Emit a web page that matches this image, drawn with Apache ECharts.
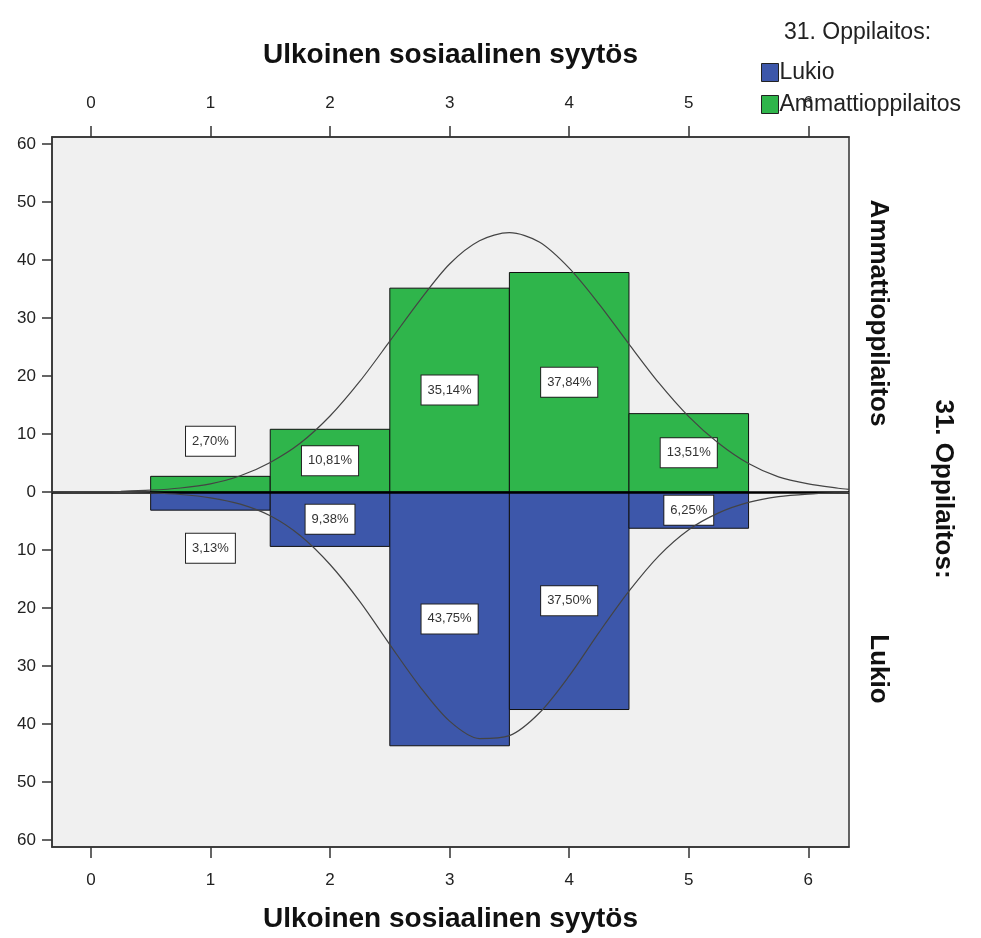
<!DOCTYPE html>
<html>
<head>
<meta charset="utf-8">
<script src="https://cdn.jsdelivr.net/npm/echarts@6/dist/echarts.min.js"></script>
<style>
html,body{margin:0;padding:0;background:#fff;}
#chart{width:981px;height:938px;}
</style>
</head>
<body>
<div id="chart"></div>
<script>
// ---- data ----
const xTicks = [0, 1, 2, 3, 4, 5, 6];
const yTicks = [-60, -50, -40, -30, -20, -10, 0, 10, 20, 30, 40, 50, 60];
const categories = [1, 2, 3, 4, 5];
const lukioPct = [3.13, 9.38, 43.75, 37.50, 6.25];
const ammattiPct = [2.70, 10.81, 35.14, 37.84, 13.51];
const lukioLabels = ['3,13%', '9,38%', '43,75%', '37,50%', '6,25%'];
const ammattiLabels = ['2,70%', '10,81%', '35,14%', '37,84%', '13,51%'];
// normal curves
const curveX = [-0.325, 0, 0.25, 0.5, 0.75, 1.0, 1.25, 1.5, 1.75, 2.0, 2.25, 2.5, 2.75, 3.0, 3.25, 3.5, 3.75, 4.0, 4.25, 4.5, 4.75, 5.0, 5.25, 5.5, 5.75, 6.0, 6.25, 6.34];
const ammattiCurveY = [0.0, 0.05, 0.13, 0.31, 0.69, 1.4, 2.8, 5.1, 8.4, 13.1, 19.1, 26.0, 33.0, 39.3, 43.3, 44.7, 43.1, 38.6, 32.4, 25.5, 18.8, 13.0, 8.4, 4.9, 2.6, 1.4, 0.65, 0.45];
const lukioCurveY = [0.0, 0.02, 0.06, 0.17, 0.43, 1.0, 2.1, 4.1, 7.5, 12.5, 18.9, 26.3, 33.5, 39.5, 42.5, 42.0, 38.1, 31.7, 24.2, 17.1, 11.0, 6.5, 3.6, 1.8, 0.8, 0.35, 0.13, 0.1];

const GREEN = '#2fb54b';
const BLUE = '#3d57aa';
const FONT = 'Liberation Sans';

const chart = echarts.init(document.getElementById('chart'), null, {renderer: 'canvas'});

function barSeries(name, values, labels, sign, color) {
  return {
    name: name,
    type: 'custom',
    xAxisIndex: 0, yAxisIndex: 0,
    data: categories.map((c, i) => [c, sign * values[i]]),
    z: 2,
    renderItem: function (params, api) {
      const x = api.value(0), v = api.value(1);
      const p1 = api.coord([x - 0.5, v]);
      const p2 = api.coord([x + 0.5, 0]);
      const top = Math.min(p1[1], p2[1]);
      const h = Math.abs(p2[1] - p1[1]);
      const boxH = 32;
      let ly;
      if (h > boxH) {
        ly = api.coord([x, v / 2])[1];
      } else {
        ly = sign > 0 ? p1[1] - 35 : p1[1] + 38;
      }
      const cx = (p1[0] + p2[0]) / 2;
      return {
        type: 'group',
        children: [
          {type: 'rect', shape: {x: p1[0], y: top, width: p2[0] - p1[0], height: h},
           style: {fill: color, stroke: '#111', lineWidth: 1}},
          {type: 'text', x: cx, y: ly, z2: 10,
           style: {text: labels[params.dataIndex], align: 'center', verticalAlign: 'middle',
                   fill: '#333', fontSize: 13, fontFamily: FONT,
                   backgroundColor: '#fff', borderColor: '#222', borderWidth: 1,
                   padding: [8, 6, 8, 6]}}
        ]
      };
    }
  };
}

const axisCommon = {
  type: 'value',
  min: -0.325, max: 6.34,
  axisLine: {show: true, onZero: false, lineStyle: {color: '#333', width: 1.5}},
  axisTick: {show: true, length: 11, lineStyle: {color: '#333', width: 1.5}, customValues: xTicks},
  axisLabel: {fontSize: 17, color: '#222', fontFamily: FONT, customValues: xTicks},
  splitLine: {show: false},
  name: 'Ulkoinen sosiaalinen syytös',
  nameLocation: 'middle',
  nameTextStyle: {fontSize: 28, fontWeight: 'bold', color: '#111', fontFamily: FONT}
};

const option = {
  animation: false,
  backgroundColor: '#fff',
  title: {
    text: '31. Oppilaitos:', left: 784, top: 21, padding: 0,
    textStyle: {fontSize: 23, fontWeight: 'normal', color: '#222', fontFamily: FONT}
  },
  legend: {
    orient: 'vertical', left: 761, top: 61, padding: 0,
    itemWidth: 17, itemHeight: 18, itemGap: 9,
    icon: 'rect',
    textStyle: {fontSize: 23, color: '#222', fontFamily: FONT, padding: [0, 0, 0, -4]},
    data: [
      {name: 'Lukio', itemStyle: {color: BLUE, borderColor: '#222', borderWidth: 1}},
      {name: 'Ammattioppilaitos', itemStyle: {color: GREEN, borderColor: '#222', borderWidth: 1}}
    ]
  },
  grid: {
    left: 52, top: 137, width: 797, height: 710,
    show: true, backgroundColor: '#f0f0f0', borderColor: '#333', borderWidth: 1.5
  },
  xAxis: [
    Object.assign({}, axisCommon, {position: 'bottom', nameGap: 58,
      axisLabel: Object.assign({}, axisCommon.axisLabel, {margin: 25})}),
    Object.assign({}, axisCommon, {position: 'top', nameGap: 68,
      axisLabel: Object.assign({}, axisCommon.axisLabel, {margin: 25})})
  ],
  yAxis: [{
    type: 'value', min: -61.2, max: 61.2, position: 'left',
    axisLine: {show: true, onZero: false, lineStyle: {color: '#333', width: 1.5}},
    axisTick: {show: true, length: 10, lineStyle: {color: '#333', width: 1.5}, customValues: yTicks},
    axisLabel: {fontSize: 17, color: '#222', fontFamily: FONT, margin: 16, customValues: yTicks,
      formatter: v => String(Math.abs(v))},
    splitLine: {show: false}
  }],
  graphic: [
    {type: 'text', x: 878, y: 313, rotation: -Math.PI / 2,
     style: {text: 'Ammattioppilaitos', align: 'center', verticalAlign: 'middle',
             fontSize: 26, fontWeight: 'bold', fill: '#111', fontFamily: FONT}},
    {type: 'text', x: 878, y: 669, rotation: -Math.PI / 2,
     style: {text: 'Lukio', align: 'center', verticalAlign: 'middle',
             fontSize: 26, fontWeight: 'bold', fill: '#111', fontFamily: FONT}},
    {type: 'text', x: 943, y: 489, rotation: -Math.PI / 2,
     style: {text: '31. Oppilaitos:', align: 'center', verticalAlign: 'middle',
             fontSize: 26, fontWeight: 'bold', fill: '#111', fontFamily: FONT}}
  ],
  series: [
    barSeries('Lukio', lukioPct, lukioLabels, -1, BLUE),
    barSeries('Ammattioppilaitos', ammattiPct, ammattiLabels, 1, GREEN),
    {
      name: 'curveA', type: 'line', smooth: 0.3, showSymbol: false, symbol: 'none', z: 5,
      data: curveX.map((x, i) => [x, ammattiCurveY[i]]),
      lineStyle: {color: '#444', width: 1.2},
      markLine: {
        silent: true, symbol: 'none', label: {show: false},
        lineStyle: {color: '#000', width: 2.5, type: 'solid'},
        data: [{yAxis: 0}]
      }
    },
    {
      name: 'curveL', type: 'line', smooth: 0.3, showSymbol: false, symbol: 'none', z: 5,
      data: curveX.map((x, i) => [x, -lukioCurveY[i]]),
      lineStyle: {color: '#444', width: 1.2}
    }
  ]
};
chart.setOption(option);
</script>
</body>
</html>
